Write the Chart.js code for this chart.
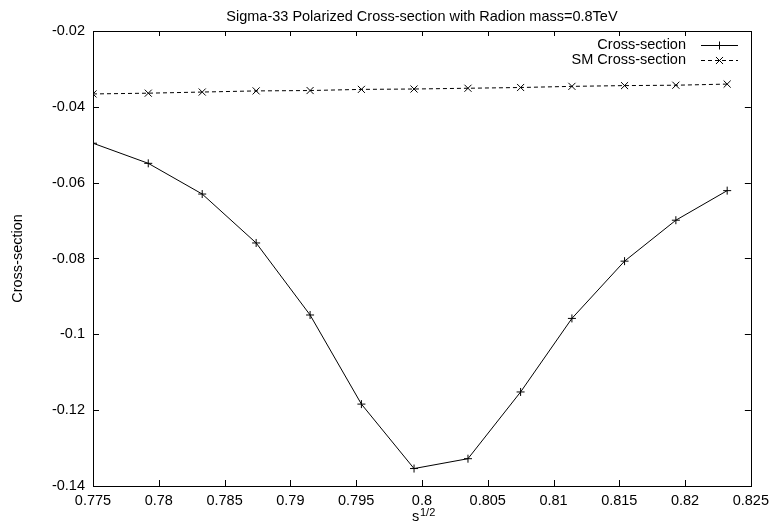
<!DOCTYPE html>
<html>
<head>
<meta charset="utf-8">
<script src="https://cdn.jsdelivr.net/npm/chart.js@4/dist/chart.umd.min.js"></script>
<style>
  html, body { margin: 0; padding: 0; background: #fff; }
  #wrap { width: 775px; height: 525px; }
</style>
</head>
<body>
<div id="wrap"><canvas id="chart" width="775" height="525"></canvas></div>
<script>
const sqrtS = [0.775, 0.7792, 0.7833, 0.7874, 0.7915, 0.7954, 0.7994, 0.8035, 0.8075, 0.8114, 0.8154, 0.8193, 0.8232];
const crossSection = [-0.0496, -0.0549, -0.0630, -0.0759, -0.0949, -0.1184, -0.1354, -0.1328, -0.1152, -0.0958, -0.0807, -0.0699, -0.0621];
const smCrossSection = [-0.0366, -0.0364, -0.0361, -0.0358, -0.0357, -0.0354, -0.0353, -0.0351, -0.0349, -0.0346, -0.0344, -0.0343, -0.0340];
const xTickLabels = ['0.775', '0.78', '0.785', '0.79', '0.795', '0.8', '0.805', '0.81', '0.815', '0.82', '0.825'];
const yTickLabels = ['-0.14', '-0.12', '-0.1', '-0.08', '-0.06', '-0.04', '-0.02'];
const seriesNames = ['Cross-section', 'SM Cross-section'];
const chartTitle = 'Sigma-33 Polarized Cross-section with Radion mass=0.8TeV';

const FONT = '"Liberation Sans", Arial, sans-serif';
const FS = 14.5;
const toPoints = (ys) => sqrtS.map((x, i) => ({ x, y: ys[i] }));
const px = (v) => Math.round(v) + 0.5;

// gnuplot look: box, inward mirrored ticks, titles, legend in the corner
const gnuplotFrame = {
  id: 'gnuplotFrame',
  afterDraw(chart) {
    const { ctx, chartArea: a, scales } = chart;
    ctx.save();
    ctx.strokeStyle = '#000';
    ctx.lineWidth = 1;
    ctx.setLineDash([]);
    ctx.strokeRect(px(a.left), px(a.top), Math.round(a.right - a.left), Math.round(a.bottom - a.top));

    ctx.beginPath();
    scales.x.ticks.forEach((t) => {
      const x = px(scales.x.getPixelForValue(t.value));
      ctx.moveTo(x, a.bottom); ctx.lineTo(x, a.bottom - 6);
      ctx.moveTo(x, a.top); ctx.lineTo(x, a.top + 5);
    });
    scales.y.ticks.forEach((t) => {
      const y = px(scales.y.getPixelForValue(t.value));
      ctx.moveTo(a.left, y); ctx.lineTo(a.left + 6, y);
      ctx.moveTo(a.right, y); ctx.lineTo(a.right - 6, y);
    });
    ctx.stroke();

    ctx.fillStyle = '#000';
    ctx.font = FS + 'px ' + FONT;
    ctx.textAlign = 'center';
    ctx.textBaseline = 'alphabetic';
    ctx.fillText(chartTitle, (a.left + a.right) / 2, 20.5);

    // x title: s^(1/2)
    ctx.textAlign = 'left';
    ctx.font = FS + 'px ' + FONT;
    ctx.fillText('s', 412, 521);
    ctx.font = '11px ' + FONT;
    ctx.fillText('1/2', 420, 516);

    // y title
    ctx.save();
    ctx.translate(18, (a.top + a.bottom) / 2);
    ctx.rotate(-Math.PI / 2);
    ctx.font = FS + 'px ' + FONT;
    ctx.textAlign = 'center';
    ctx.textBaseline = 'middle';
    ctx.fillText('Cross-section', 0, 0);
    ctx.restore();

    // legend
    const rows = [
      { y: 45, dash: [], style: 'cross', r: 4 },
      { y: 60, dash: [4, 3], style: 'crossRot', r: 5 },
    ];
    rows.forEach((row, i) => {
      ctx.font = FS + 'px ' + FONT;
      ctx.textAlign = 'right';
      ctx.textBaseline = 'middle';
      ctx.fillText(seriesNames[i], 686, row.y);
      ctx.setLineDash(row.dash);
      ctx.beginPath();
      ctx.moveTo(701, px(row.y));
      ctx.lineTo(738, px(row.y));
      ctx.stroke();
      ctx.setLineDash([]);
      Chart.helpers.drawPoint(ctx, { pointStyle: row.style, radius: row.r, rotation: 0, borderWidth: 1 }, 719.5, px(row.y));
    });
    ctx.restore();
  },
};

new Chart(document.getElementById('chart'), {
  type: 'line',
  data: {
    datasets: [
      {
        label: seriesNames[0],
        data: toPoints(crossSection),
        borderColor: '#000',
        backgroundColor: '#000',
        borderWidth: 1,
        pointStyle: 'cross',
        pointRadius: 4,
        pointBorderWidth: 1,
        tension: 0,
      },
      {
        label: seriesNames[1],
        data: toPoints(smCrossSection),
        borderColor: '#000',
        backgroundColor: '#000',
        borderWidth: 1,
        borderDash: [4, 3],
        pointStyle: 'crossRot',
        pointRadius: 5,
        pointBorderWidth: 1,
        tension: 0,
      },
    ],
  },
  options: {
    responsive: false,
    animation: false,
    devicePixelRatio: 1,
    layout: { padding: { left: 0, right: 21, top: 31, bottom: 0 } },
    plugins: {
      legend: { display: false },
      title: { display: false },
      tooltip: { enabled: false },
    },
    scales: {
      x: {
        type: 'linear',
        min: 0.775,
        max: 0.825,
        afterBuildTicks: (scale) => {
          scale.ticks = xTickLabels.map((l) => ({ value: parseFloat(l) }));
        },
        afterFit: (scale) => { scale.height = 39; },
        grid: { display: false, drawTicks: false },
        border: { display: false },
        ticks: {
          padding: 6,
          color: '#000',
          font: { family: FONT, size: FS },
          maxRotation: 0,
          autoSkip: false,
          callback: (v, i) => xTickLabels[i],
        },
      },
      y: {
        type: 'linear',
        min: -0.14,
        max: -0.02,
        afterBuildTicks: (scale) => {
          scale.ticks = yTickLabels.map((l) => ({ value: parseFloat(l) }));
        },
        afterFit: (scale) => { scale.width = 93; },
        grid: { display: false, drawTicks: false },
        border: { display: false },
        ticks: {
          padding: 8,
          color: '#000',
          font: { family: FONT, size: FS },
          autoSkip: false,
          callback: (v, i) => yTickLabels[i],
        },
      },
    },
  },
  plugins: [gnuplotFrame],
});
</script>
</body>
</html>
